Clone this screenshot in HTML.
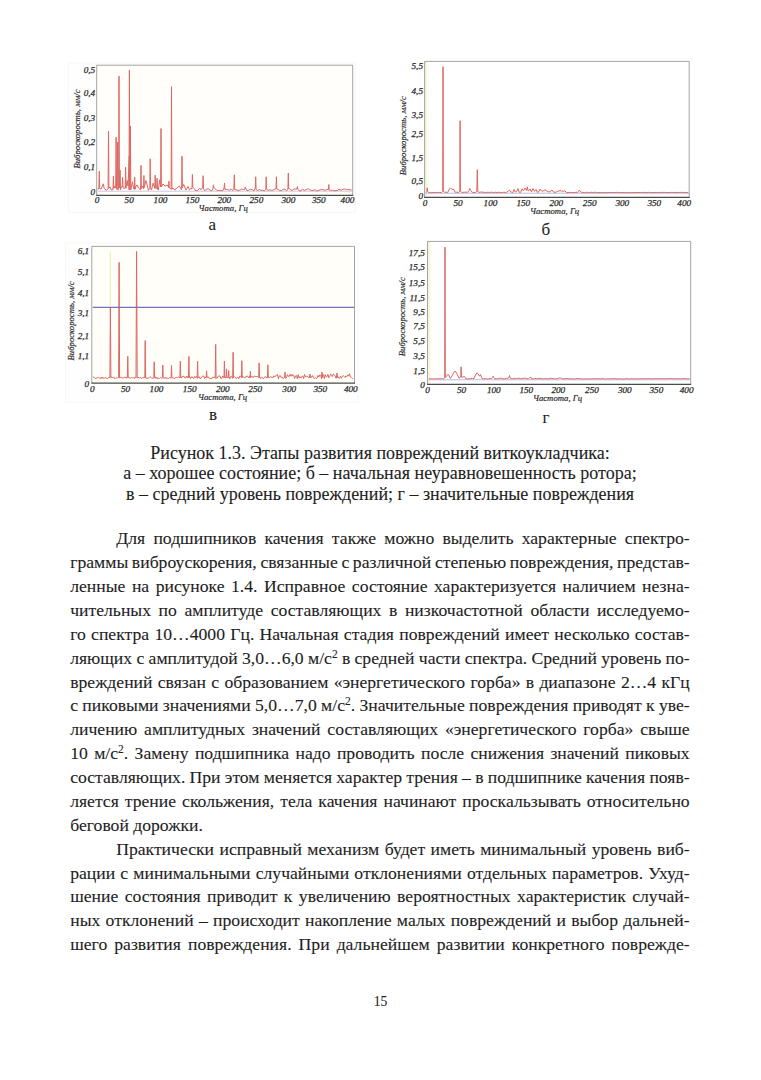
<!DOCTYPE html>
<html><head><meta charset="utf-8">
<style>
html,body{margin:0;padding:0;background:#fff;}
body{width:761px;height:1080px;position:relative;overflow:hidden;font-family:"Liberation Serif",serif;color:#1e1e1e;-webkit-text-stroke:0.1px #1e1e1e;}
.charts{position:absolute;left:0;top:0;}
.ln{position:absolute;height:0;font-size:17.65px;line-height:0;white-space:pre;}
.ln sup{font-size:11.5px;position:relative;top:-6px;line-height:0;vertical-align:0}
.cap{position:absolute;left:0;width:760px;text-align:center;font-size:18px;line-height:0;white-space:pre;}
.lab{position:absolute;font-size:17px;line-height:0;white-space:pre;}
.pn{position:absolute;left:0;width:761px;text-align:center;font-size:13.6px;line-height:0;}
</style></head><body>
<svg class="charts" width="761" height="440" viewBox="0 0 761 440">
<style>.tl{font-family:"Liberation Serif",serif;font-style:italic;font-size:9.2px;fill:#2a2a2a;stroke:#2a2a2a;stroke-width:0.25px} .tt{font-family:"Liberation Serif",serif;font-style:italic;font-size:8.7px;fill:#262626;stroke:#262626;stroke-width:0.18px}</style>
<rect x="68.5" y="63" width="287.0" height="149.5" fill="#fefefe" stroke="#f7f7f7" stroke-width="1"/>
<rect x="96.7" y="65.2" width="256.0" height="130.10000000000002" fill="#fffefa"/>
<line x1="97.7" y1="191.2" x2="352.7" y2="191.2" stroke="#c8c8e4" stroke-width="1"/>
<polyline points="97.9,189.6 98.9,187.2 99.3,171.3 99.7,188.6 101.2,189.0 102.4,186.0 103.3,183.8 104.2,188.5 106.5,190.3 108.1,188.5 108.5,131.0 108.9,188.2 110.1,187.0 111.2,190.0 113.0,189.4 113.4,176.2 113.8,188.5 114.5,186.0 115.7,188.1 116.1,137.2 116.5,187.6 117.2,189.7 117.6,142.0 118.0,189.1 118.6,189.7 119.0,76.2 119.4,187.6 119.7,187.9 120.1,170.0 120.5,189.9 121.2,187.0 122.2,187.1 122.6,177.5 123.0,187.1 123.8,188.5 125.2,188.0 125.6,167.3 126.0,188.2 127.2,180.5 128.0,186.0 129.3,156.0 129.0,189.5 129.4,70.1 129.8,190.0 130.0,188.4 130.4,126.0 130.8,189.8 131.5,186.0 132.5,181.8 133.5,188.0 134.3,189.4 134.7,177.2 135.1,189.3 136.0,186.0 137.2,185.0 138.5,188.0 140.6,189.9 141.0,165.4 141.4,188.6 142.2,186.0 143.5,188.7 143.9,175.5 144.3,187.5 145.9,180.5 148.5,190.3 149.8,188.4 150.2,158.8 150.6,188.1 151.5,190.0 153.1,183.1 154.8,188.5 155.2,175.2 155.6,188.0 156.7,188.6 157.1,178.2 157.5,189.2 158.3,190.0 159.7,179.8 160.6,187.0 161.0,128.5 161.4,187.0 163.0,184.0 165.0,186.0 167.6,185.0 168.5,187.5 168.9,181.1 169.3,187.9 171.1,189.1 171.5,86.6 171.9,189.3 173.0,188.0 174.9,190.1 176.8,188.0 179.4,186.0 181.6,189.8 182.0,156.2 182.4,187.7 183.7,184.4 186.0,190.0 188.0,186.4 189.5,189.8 190.9,188.5 192.0,188.8 192.4,174.4 192.8,187.1 194.2,188.5 196.0,191.0 197.8,190.4 199.5,188.3 201.3,189.6 202.7,187.1 203.1,175.7 203.5,188.8 204.8,190.8 206.5,189.1 208.2,188.7 210.0,190.2 211.7,190.7 213.0,189.0 213.4,184.8 213.8,187.1 215.2,188.7 217.1,190.6 218.9,190.3 220.8,190.7 222.7,190.8 224.1,187.6 224.5,183.0 224.9,189.5 226.1,189.3 227.8,189.7 229.4,190.4 231.0,188.8 232.7,190.6 233.9,188.1 234.3,174.8 234.7,189.7 236.1,189.7 237.9,190.4 239.8,190.2 241.6,189.1 243.4,189.4 244.8,189.4 245.2,187.1 245.6,188.2 246.9,190.6 248.7,190.2 250.4,189.3 252.2,189.7 253.9,190.8 255.3,188.0 255.7,176.8 256.1,189.6 257.4,190.5 259.2,189.5 260.9,190.3 262.7,190.4 264.4,190.9 265.8,189.8 266.2,176.8 266.6,188.8 267.9,190.5 269.6,189.8 271.3,190.3 273.0,190.1 274.7,189.1 276.0,189.0 276.4,176.8 276.8,188.9 278.1,189.3 279.8,190.6 281.5,190.7 283.2,189.2 284.9,189.4 286.6,190.5 287.9,189.6 288.3,173.0 288.7,188.5 290.1,189.1 291.9,190.6 293.8,189.1 295.6,189.2 297.0,188.8 297.4,186.5 297.8,189.2 299.1,190.8 300.9,190.9 302.6,189.1 304.3,190.5 306.1,189.6 307.4,189.5 307.8,189.0 308.2,188.4 309.6,189.8 311.3,190.4 313.1,190.6 314.8,189.6 316.6,190.9 318.3,190.5 320.1,189.9 321.8,189.3 323.6,189.8 325.3,190.4 327.1,189.2 328.4,189.6 328.8,184.5 329.2,190.0 330.6,190.5 332.4,190.1 334.2,190.9 336.0,190.6 337.8,190.3 339.2,188.9 339.6,189.9 340.0,189.7 341.3,190.3 343.1,189.2 344.8,189.0 346.5,189.7 348.2,189.6 350.0,189.8 351.7,189.9" fill="none" stroke="#de6763" stroke-width="1" stroke-linejoin="miter" stroke-miterlimit="20"/>

<path d="M96.7,195.3 L96.7,65.2 L352.7,65.2 L352.7,195.3" fill="none" stroke="#9a9a9a" stroke-width="0.9"/>
<line x1="96.2" y1="195.3" x2="353.2" y2="195.3" stroke="#4a4a4a" stroke-width="1.3"/>
<text x="95.2" y="72.74" text-anchor="end" class="tl">0,5</text>
<text x="95.2" y="96.04" text-anchor="end" class="tl">0,4</text>
<text x="95.2" y="120.64" text-anchor="end" class="tl">0,3</text>
<text x="95.2" y="144.94" text-anchor="end" class="tl">0,2</text>
<text x="95.2" y="169.94" text-anchor="end" class="tl">0,1</text>
<text x="95.2" y="194.54" text-anchor="end" class="tl">0</text>
<text x="97" y="203.04" text-anchor="middle" class="tl">0</text>
<text x="129.2" y="203.04" text-anchor="middle" class="tl">50</text>
<text x="160.5" y="203.04" text-anchor="middle" class="tl">100</text>
<text x="192.5" y="203.04" text-anchor="middle" class="tl">150</text>
<text x="224.3" y="203.04" text-anchor="middle" class="tl">200</text>
<text x="256.4" y="203.04" text-anchor="middle" class="tl">250</text>
<text x="288.4" y="203.04" text-anchor="middle" class="tl">300</text>
<text x="318.8" y="203.04" text-anchor="middle" class="tl">350</text>
<text x="347.5" y="203.04" text-anchor="middle" class="tl">400</text>
<text transform="translate(79.77,129.0) rotate(-90)" text-anchor="middle" class="tt">Виброскорость, мм/с</text>
<text x="223.2" y="210.5" text-anchor="middle" class="tt">Частота, Гц</text>
<rect x="424.6" y="61.4" width="264.6" height="136.0" fill="#ffffff"/>
<rect x="425.20000000000005" y="61.4" width="2.2" height="136.0" fill="#f9f5d5"/><line x1="425.6" y1="193.2" x2="689.2" y2="193.2" stroke="#b8bde6" stroke-width="1"/>
<polyline points="426.1,192.7 426.8,191.7 427.2,187.8 427.6,191.4 428.8,192.5 430.4,192.4 431.9,192.7 433.5,192.5 435.1,192.5 436.7,192.4 438.3,192.6 439.8,192.4 441.4,192.7 442.7,191.4 443.0,66.6 443.3,191.3 444.6,192.2 446.2,192.3 447.9,192.3 449.5,188.8 450.5,187.8 452.0,189.5 453.5,189.0 455.1,192.2 456.8,192.2 458.5,192.5 459.8,191.3 460.1,120.7 460.4,191.2 461.6,192.2 463.1,192.4 464.6,192.2 466.0,192.2 467.5,192.4 469.0,190.5 469.8,188.3 470.6,190.5 472.3,192.3 474.0,192.5 475.6,192.4 476.8,191.3 477.3,169.6 477.8,191.7 478.9,192.3 480.6,192.1 482.2,192.2 483.8,192.3 485.5,192.5 487.1,192.3 488.7,192.4 490.4,192.4 492.0,192.2 493.6,192.6 495.3,192.2 496.9,192.7 498.6,192.3 500.2,192.4 501.8,192.6 503.5,192.3 505.1,192.4 506.7,192.3 508.4,190.9 510.0,190.5 511.3,192.2 512.7,192.7 514.0,189.5 515.3,192.1 516.7,191.3 518.0,188.6 519.3,192.3 520.7,192.4 522.0,188.8 523.5,190.9 525.0,188.0 526.5,190.4 527.3,186.8 528.1,190.8 528.6,190.9 530.0,189.0 531.5,192.0 533.0,188.5 534.5,191.4 536.0,189.5 537.3,192.3 538.7,191.8 540.0,189.0 541.7,191.1 543.3,190.9 545.0,189.8 546.8,190.9 548.5,191.9 550.2,191.5 552.0,190.0 553.6,192.1 555.2,192.4 556.8,191.7 558.4,191.0 560.0,190.6 561.6,191.0 563.2,191.3 564.8,190.8 566.4,192.5 568.0,192.6 569.6,192.4 571.3,192.5 572.9,192.6 574.5,192.5 576.1,192.3 577.7,192.4 578.5,191.5 579.3,190.0 580.1,191.2 580.9,192.1 582.5,192.4 584.1,192.7 585.7,192.7 587.3,192.2 588.9,192.7 590.5,192.3 592.1,192.4 593.7,192.5 595.3,192.2 596.9,192.7 598.5,192.6 600.1,192.5 601.7,192.7 603.3,192.4 604.9,192.6 606.5,192.7 608.1,192.7 609.7,192.5 611.3,192.5 612.9,192.5 614.5,192.5 616.1,192.4 617.7,192.4 619.3,192.5 620.9,192.6 622.5,192.5 624.1,192.6 625.7,192.7 627.3,192.5 628.9,192.5 630.5,192.6 632.1,192.6 633.8,192.6 635.4,192.5 637.0,192.5 638.6,192.5 640.2,192.4 641.8,192.6 643.4,192.4 645.0,192.4 646.6,192.7 648.2,192.4 649.8,192.4 651.4,192.7 653.0,192.5 654.6,192.5 656.2,192.4 657.8,192.6 659.4,192.5 661.0,192.4 662.6,192.4 664.2,192.4 665.8,192.5 667.4,192.5 669.0,192.6 670.6,192.4 672.2,192.4 673.8,192.5 675.4,192.4 677.0,192.6 678.6,192.4 680.2,192.4 681.8,192.4 683.4,192.5 685.0,192.4 686.6,192.6 688.2,192.7" fill="none" stroke="#de6763" stroke-width="1" stroke-linejoin="miter" stroke-miterlimit="20"/>

<path d="M424.6,197.4 L424.6,61.4 L689.2,61.4 L689.2,197.4" fill="none" stroke="#9a9a9a" stroke-width="0.9"/>
<line x1="424.1" y1="197.4" x2="689.7" y2="197.4" stroke="#4a4a4a" stroke-width="1.3"/>
<text x="423.0" y="69.04" text-anchor="end" class="tl">5,5</text>
<text x="423.0" y="94.44" text-anchor="end" class="tl">4,5</text>
<text x="423.0" y="118.04" text-anchor="end" class="tl">3,5</text>
<text x="423.0" y="137.04" text-anchor="end" class="tl">2,5</text>
<text x="423.0" y="160.84" text-anchor="end" class="tl">1,5</text>
<text x="423.0" y="184.04" text-anchor="end" class="tl">0,5</text>
<text x="423.0" y="198.74" text-anchor="end" class="tl">0</text>
<text x="425.1" y="206.04" text-anchor="middle" class="tl">0</text>
<text x="458" y="206.04" text-anchor="middle" class="tl">50</text>
<text x="490.5" y="206.04" text-anchor="middle" class="tl">100</text>
<text x="523.3" y="206.04" text-anchor="middle" class="tl">150</text>
<text x="556.3" y="206.04" text-anchor="middle" class="tl">200</text>
<text x="589.7" y="206.04" text-anchor="middle" class="tl">250</text>
<text x="622.3" y="206.04" text-anchor="middle" class="tl">300</text>
<text x="654.3" y="206.04" text-anchor="middle" class="tl">350</text>
<text x="684.2" y="206.04" text-anchor="middle" class="tl">400</text>
<text transform="translate(406.48,135.7) rotate(-90)" text-anchor="middle" class="tt">Виброскорость, мм/с</text>
<text x="554.6" y="214.0" text-anchor="middle" class="tt">Частота, Гц</text>
<rect x="65.5" y="243" width="292.5" height="159.5" fill="#fefefe" stroke="#f7f7f7" stroke-width="1"/>
<rect x="91.8" y="246.4" width="262.7" height="136.79999999999998" fill="#fffef9"/>
<line x1="110.3" y1="251.4" x2="110.3" y2="307" stroke="#f0ecb0" stroke-width="1"/>
<polyline points="93.0,377.0 93.9,377.1 94.8,378.1 95.7,378.6 96.6,377.9 97.5,377.7 98.4,377.3 99.3,377.8 100.2,378.7 101.1,377.2 102.0,378.7 102.9,377.2 103.8,378.5 104.7,378.1 105.6,377.2 106.5,378.5 107.4,378.5 108.3,377.8 109.2,377.4 110.1,377.1 109.9,377.6 110.4,307.5 110.9,377.6 111.0,377.4 111.9,376.9 112.8,377.8 113.7,376.9 114.6,378.6 115.5,378.4 116.4,377.7 117.3,378.2 118.2,377.3 118.6,377.6 119.1,262.3 119.6,377.6 119.1,377.5 120.0,377.8 120.9,377.1 121.8,377.7 122.7,378.2 123.6,378.0 124.5,377.1 125.4,377.0 126.3,378.4 127.2,377.1 127.3,377.6 127.8,356.3 128.2,377.6 128.1,376.9 129.0,377.8 129.9,377.7 130.8,378.4 131.7,377.7 132.6,377.8 133.5,377.6 134.4,378.7 135.3,376.9 136.2,377.8 136.0,377.6 136.6,251.4 137.2,377.6 137.1,378.0 138.0,377.2 138.9,377.7 139.8,377.8 140.7,377.4 141.6,378.7 142.5,377.7 143.4,378.0 144.3,376.9 144.8,377.6 145.2,340.5 145.6,377.6 145.2,377.0 146.1,378.3 147.0,377.9 147.9,378.5 148.8,377.9 149.7,377.2 150.6,377.0 151.5,377.8 152.4,378.2 153.3,378.4 153.8,377.6 154.2,361.8 154.6,377.6 154.2,377.6 155.1,376.9 156.0,378.5 156.9,377.2 157.8,378.8 158.7,378.4 159.6,378.3 160.5,377.4 161.4,378.2 162.3,378.1 162.4,377.6 162.8,365.0 163.2,377.6 163.2,377.6 164.1,378.6 165.0,377.3 165.9,378.6 166.8,377.8 167.7,378.3 168.6,378.4 169.5,377.7 170.4,377.9 171.3,378.0 171.1,377.6 171.5,365.5 171.9,377.6 172.2,378.0 173.1,377.7 174.0,378.5 174.9,378.4 175.8,377.5 176.7,377.5 177.6,377.7 178.5,377.1 179.4,377.6 179.9,377.6 180.3,361.3 180.8,377.6 180.3,376.2 181.2,378.1 182.1,376.6 183.0,376.4 183.9,376.1 184.8,377.9 185.7,377.9 186.6,376.0 187.5,378.1 188.4,375.8 188.5,377.6 188.9,356.3 189.3,377.6 189.3,376.1 190.2,378.4 191.1,378.1 192.0,376.6 192.9,378.0 193.8,378.5 194.7,376.3 195.6,377.5 196.5,376.4 197.4,378.4 197.2,377.6 197.6,361.3 198.0,377.6 198.3,377.6 199.2,376.7 200.1,378.7 201.0,378.2 201.9,376.8 202.8,376.1 203.7,375.9 204.6,378.5 205.5,377.3 206.4,376.5 206.2,377.6 206.6,370.8 207.0,377.6 207.3,377.3 208.2,376.7 209.1,378.2 210.0,378.6 210.9,378.5 211.8,378.7 212.7,377.1 213.6,377.3 214.5,377.1 215.4,378.4 215.2,377.6 215.7,344.4 216.1,377.6 216.3,378.2 217.2,378.2 218.1,376.3 219.0,375.8 219.9,376.0 220.8,378.5 221.7,378.6 222.6,375.9 223.5,377.4 224.0,377.6 224.4,361.0 224.8,377.6 224.4,376.5 225.3,377.8 226.2,377.4 226.1,377.6 226.5,368.9 226.9,377.6 227.1,377.3 228.0,377.5 228.2,377.6 228.7,370.5 229.1,377.6 228.9,377.0 229.8,378.8 230.7,376.7 231.6,376.3 232.5,378.3 232.7,377.6 233.1,352.3 233.5,377.6 233.4,377.4 234.3,376.6 235.2,377.6 236.1,378.2 237.0,378.3 237.9,377.3 238.8,378.8 239.7,376.1 240.6,376.4 241.5,376.7 241.4,377.6 241.8,360.7 242.2,377.6 242.4,376.2 243.3,376.9 244.2,377.6 245.1,377.0 246.0,377.3 246.9,375.9 247.8,376.4 248.7,378.0 249.6,376.1 250.0,377.6 250.4,371.3 250.8,377.6 250.5,376.6 251.4,376.5 252.3,376.4 253.2,377.6 254.1,376.1 255.0,376.2 255.9,376.7 256.8,376.5 257.7,376.5 258.6,377.6 258.7,377.6 259.1,362.9 259.6,377.6 259.5,376.6 260.4,378.6 261.3,377.8 262.2,377.4 263.1,378.8 264.0,377.7 264.9,376.9 265.8,376.9 266.7,378.1 267.6,376.0 267.4,377.6 267.9,364.8 268.3,377.6 268.5,376.8 269.4,377.8 270.3,376.8 271.2,377.1 272.1,377.2 273.0,377.6 273.9,375.8 274.8,376.9 275.7,375.6 276.6,375.4 277.5,374.4 278.4,378.7 279.3,376.0 280.2,375.5 281.1,377.6 282.0,377.0 282.9,378.6 283.8,377.9 284.7,377.1 284.6,377.6 285.0,372.0 285.4,377.6 285.6,378.4 286.5,377.7 287.4,374.7 288.3,376.3 289.2,376.5 290.1,374.4 291.0,376.2 291.9,374.3 292.8,375.9 293.7,375.2 294.6,378.5 295.5,376.1 296.4,375.4 297.3,378.6 298.2,374.6 299.1,378.1 300.0,376.7 300.9,378.0 301.8,376.6 302.7,376.0 303.6,378.5 304.5,374.5 305.4,376.9 306.3,376.4 307.2,376.1 308.1,377.2 309.0,377.5 309.9,375.9 309.6,377.6 310.0,374.0 310.4,377.6 310.8,376.3 311.7,377.5 312.6,375.6 313.5,377.5 314.4,378.7 315.3,377.7 316.2,378.6 317.1,378.1 318.0,375.4 318.9,377.0 319.8,374.8 320.7,375.4 321.6,378.6 321.6,377.6 322.0,372.0 322.4,377.6 322.5,374.4 323.4,374.5 324.3,378.5 325.2,374.7 326.1,376.9 327.0,376.7 327.9,374.4 328.8,377.7 329.7,376.4 330.6,374.1 331.5,375.2 332.4,376.5 333.3,373.9 334.2,374.7 335.1,375.8 336.0,378.2 336.9,375.7 336.6,377.6 337.0,373.0 337.4,377.6 337.8,376.5 338.7,377.8 339.6,378.5 340.5,376.2 341.4,378.2 342.3,376.6 343.2,375.5 344.1,376.5 345.0,377.5 345.9,375.9 346.8,376.7 347.7,374.9 348.6,376.1 349.5,373.8 350.4,376.9 351.3,377.3 352.2,378.3 353.1,378.6" fill="none" stroke="#de6763" stroke-width="1" stroke-linejoin="miter" stroke-miterlimit="20"/>
<line x1="92.8" y1="307.3" x2="354.5" y2="307.3" stroke="#7672b6" stroke-width="1.15"/>
<path d="M91.8,383.2 L91.8,246.4 L354.5,246.4 L354.5,383.2" fill="none" stroke="#9a9a9a" stroke-width="0.9"/>
<line x1="91.3" y1="383.2" x2="355.0" y2="383.2" stroke="#4a4a4a" stroke-width="1.3"/>
<text x="89.2" y="254.14" text-anchor="end" class="tl">6,1</text>
<text x="89.2" y="274.84" text-anchor="end" class="tl">5,1</text>
<text x="89.2" y="295.64" text-anchor="end" class="tl">4,1</text>
<text x="89.2" y="316.24" text-anchor="end" class="tl">3,1</text>
<text x="89.2" y="338.84" text-anchor="end" class="tl">2,1</text>
<text x="89.2" y="358.54" text-anchor="end" class="tl">1,1</text>
<text x="89.2" y="386.94" text-anchor="end" class="tl">0</text>
<text x="92.3" y="392.04" text-anchor="middle" class="tl">0</text>
<text x="125.5" y="392.04" text-anchor="middle" class="tl">50</text>
<text x="156.5" y="392.04" text-anchor="middle" class="tl">100</text>
<text x="189.7" y="392.04" text-anchor="middle" class="tl">150</text>
<text x="222.8" y="392.04" text-anchor="middle" class="tl">200</text>
<text x="255.2" y="392.04" text-anchor="middle" class="tl">250</text>
<text x="289.2" y="392.04" text-anchor="middle" class="tl">300</text>
<text x="320.3" y="392.04" text-anchor="middle" class="tl">350</text>
<text x="350.8" y="392.04" text-anchor="middle" class="tl">400</text>
<text transform="translate(74.38,320.9) rotate(-90)" text-anchor="middle" class="tt">Виброскорость, мм/с</text>
<text x="222.6" y="400.0" text-anchor="middle" class="tt">Частота, Гц</text>
<rect x="427.5" y="241.4" width="263.20000000000005" height="142.99999999999997" fill="#ffffff"/>
<rect x="428.1" y="241.4" width="2.2" height="142.99999999999997" fill="#f9f5d5"/><line x1="428.5" y1="379.8" x2="690.7" y2="379.8" stroke="#b8bde6" stroke-width="1"/>
<polyline points="429.0,378.6 430.6,378.8 432.2,378.9 433.8,378.9 435.4,378.7 437.0,378.8 438.6,378.8 440.2,378.7 441.8,378.7 443.4,378.9 444.7,377.9 445.0,247.1 445.3,377.6 446.5,376.0 447.5,374.5 448.8,375.0 450.5,378.6 452.0,376.0 453.5,373.0 454.8,371.1 456.0,372.0 457.5,375.0 459.0,378.3 460.7,377.2 461.1,366.8 461.5,377.2 463.0,377.0 464.5,376.5 466.1,379.0 467.7,378.9 469.2,378.8 470.8,378.6 472.4,378.4 474.0,378.5 475.5,375.0 477.0,372.8 478.2,374.0 479.5,376.2 480.5,374.5 482.0,378.5 483.6,378.9 485.2,378.5 486.8,378.9 488.4,378.9 490.0,378.4 491.6,378.5 492.6,377.4 493.2,376.2 493.8,377.7 494.8,378.6 496.5,378.8 498.1,378.7 499.7,378.3 501.4,378.2 503.0,378.9 504.6,378.9 506.2,378.3 507.9,378.4 509.0,377.3 509.5,375.4 510.0,377.8 511.1,378.6 512.7,378.8 514.2,378.3 515.8,378.7 517.4,378.4 519.0,378.1 520.5,378.7 522.1,378.5 523.7,378.3 525.3,378.2 526.8,378.6 528.4,378.7 529.2,377.9 530.0,377.5 530.8,377.2 531.6,378.9 533.2,378.9 534.7,378.5 536.3,378.6 537.9,378.4 539.5,378.7 541.1,378.3 542.6,378.9 544.2,378.8 545.8,378.4 547.4,378.9 548.9,378.7 550.5,378.3 552.1,378.4 553.7,378.7 555.3,378.9 556.8,378.7 558.4,378.3 559.2,377.9 560.0,378.0 560.8,378.0 561.6,378.7 563.2,378.8 564.8,378.6 566.4,378.6 568.0,378.6 569.6,378.8 571.2,378.7 572.8,378.9 574.4,378.9 576.0,378.8 577.6,378.6 579.2,378.6 580.8,378.9 582.4,378.9 584.0,378.9 585.6,378.9 587.2,378.8 588.8,378.8 590.4,378.9 592.0,378.8 593.6,378.7 595.2,378.8 596.8,378.7 598.4,378.8 600.0,378.9 601.6,378.7 603.2,378.6 604.8,378.9 606.4,379.0 608.0,378.8 609.6,378.8 611.2,378.8 612.8,378.6 614.4,378.7 616.0,378.7 617.6,379.0 619.2,378.8 620.8,378.7 622.4,379.0 624.0,379.0 625.7,378.7 627.3,378.6 628.9,379.0 630.5,378.7 632.1,378.9 633.7,378.7 635.3,378.7 636.9,378.9 638.5,378.9 640.1,378.7 641.7,378.8 643.3,378.7 644.9,378.8 646.5,378.9 648.1,378.6 649.7,378.7 651.3,378.8 652.9,378.8 654.5,378.7 656.1,378.7 657.7,378.6 659.3,378.8 660.9,378.7 662.5,378.7 664.1,378.7 665.7,378.7 667.3,378.7 668.9,378.6 670.5,378.6 672.1,378.7 673.7,378.8 675.3,378.7 676.9,378.7 678.5,378.8 680.1,378.8 681.7,378.9 683.3,378.7 684.9,378.6 686.5,378.8 688.1,378.9 689.7,378.7" fill="none" stroke="#de6763" stroke-width="1" stroke-linejoin="miter" stroke-miterlimit="20"/>

<path d="M427.5,384.4 L427.5,241.4 L690.7,241.4 L690.7,384.4" fill="none" stroke="#9a9a9a" stroke-width="0.9"/>
<line x1="427.0" y1="384.4" x2="691.2" y2="384.4" stroke="#4a4a4a" stroke-width="1.3"/>
<text x="424.8" y="255.54" text-anchor="end" class="tl">17,5</text>
<text x="424.8" y="270.34" text-anchor="end" class="tl">15,5</text>
<text x="424.8" y="285.64" text-anchor="end" class="tl">13,5</text>
<text x="424.8" y="300.94" text-anchor="end" class="tl">11,5</text>
<text x="424.8" y="315.24" text-anchor="end" class="tl">9,5</text>
<text x="424.8" y="329.14" text-anchor="end" class="tl">7,5</text>
<text x="424.8" y="343.94" text-anchor="end" class="tl">5,5</text>
<text x="424.8" y="359.04" text-anchor="end" class="tl">3,5</text>
<text x="424.8" y="373.84" text-anchor="end" class="tl">1,5</text>
<text x="424.8" y="387.74" text-anchor="end" class="tl">0</text>
<text x="427.6" y="393.04" text-anchor="middle" class="tl">0</text>
<text x="461.5" y="393.04" text-anchor="middle" class="tl">50</text>
<text x="493.8" y="393.04" text-anchor="middle" class="tl">100</text>
<text x="526.3" y="393.04" text-anchor="middle" class="tl">150</text>
<text x="558.3" y="393.04" text-anchor="middle" class="tl">200</text>
<text x="592" y="393.04" text-anchor="middle" class="tl">250</text>
<text x="624.8" y="393.04" text-anchor="middle" class="tl">300</text>
<text x="656.4" y="393.04" text-anchor="middle" class="tl">350</text>
<text x="686.6" y="393.04" text-anchor="middle" class="tl">400</text>
<text transform="translate(405.28,316.7) rotate(-90)" text-anchor="middle" class="tt">Виброскорость, мм/с</text>
<text x="557.5" y="401.0" text-anchor="middle" class="tt">Частота, Гц</text>
</svg>
<div class="lab" style="left:208.4px;top:225.26px">а</div>
<div class="lab" style="left:541.6px;top:229.86px">б</div>
<div class="lab" style="left:208.9px;top:414.66px">в</div>
<div class="lab" style="left:542.6px;top:418.26px">г</div>
<div class="cap" style="top:452.53px">Рисунок 1.3. Этапы развития повреждений виткоукладчика:</div>
<div class="cap" style="top:472.93px">а – хорошее состояние; б – начальная неуравновешенность ротора;</div>
<div class="cap" style="top:493.53px">в – средний уровень повреждений; г – значительные повреждения</div>
<div class="ln" style="left:116.20px;top:538.34px;word-spacing:3.828px">Для подшипников качения также можно выделить характерные спектро-</div><div class="ln" style="left:70.20px;top:562.21px;word-spacing:-0.799px">граммы виброускорения, связанные с различной степенью повреждения, представ-</div><div class="ln" style="left:70.20px;top:586.08px;word-spacing:2.090px">ленные на рисуноке 1.4. Исправное состояние характеризуется наличием незна-</div><div class="ln" style="left:70.20px;top:609.95px;word-spacing:3.176px">чительных по амплитуде составляющих в низкочастотной области исследуемо-</div><div class="ln" style="left:70.20px;top:633.82px;word-spacing:0.884px">го спектра 10…4000 Гц. Начальная стадия повреждений имеет несколько состав-</div><div class="ln" style="left:70.20px;top:657.69px;word-spacing:-0.115px">ляющих с амплитудой 3,0…6,0 м/с<sup>2</sup> в средней части спектра. Средний уровень по-</div><div class="ln" style="left:70.20px;top:681.56px;word-spacing:0.866px">вреждений связан с образованием «энергетического горба» в диапазоне 2…4 кГц</div><div class="ln" style="left:70.20px;top:705.43px;word-spacing:-0.069px">с пиковыми значениями 5,0…7,0 м/с<sup>2</sup>. Значительные повреждения приводят к уве-</div><div class="ln" style="left:70.20px;top:729.30px;word-spacing:2.464px">личению амплитудных значений составляющих «энергетического горба» свыше</div><div class="ln" style="left:70.20px;top:753.17px;word-spacing:1.950px">10 м/с<sup>2</sup>. Замену подшипника надо проводить после снижения значений пиковых</div><div class="ln" style="left:70.20px;top:777.04px;word-spacing:-0.156px">составляющих. При этом меняется характер трения – в подшипнике качения появ-</div><div class="ln" style="left:70.20px;top:800.91px;word-spacing:1.578px">ляется трение скольжения, тела качения начинают проскальзывать относительно</div><div class="ln" style="left:70.20px;top:824.78px;word-spacing:0.000px">беговой дорожки.</div><div class="ln" style="left:116.20px;top:848.65px;word-spacing:0.996px">Практически исправный механизм будет иметь минимальный уровень виб-</div><div class="ln" style="left:70.20px;top:872.52px;word-spacing:0.748px">рации с минимальными случайными отклонениями отдельных параметров. Ухуд-</div><div class="ln" style="left:70.20px;top:896.39px;word-spacing:1.993px">шение состояния приводит к увеличению вероятностных характеристик случай-</div><div class="ln" style="left:70.20px;top:920.26px;word-spacing:0.872px">ных отклонений – происходит накопление малых повреждений и выбор дальней-</div><div class="ln" style="left:70.20px;top:944.13px;word-spacing:2.625px">шего развития повреждения. При дальнейшем развитии конкретного поврежде-</div>
<div class="pn" style="top:1001.91px">15</div>
</body></html>
